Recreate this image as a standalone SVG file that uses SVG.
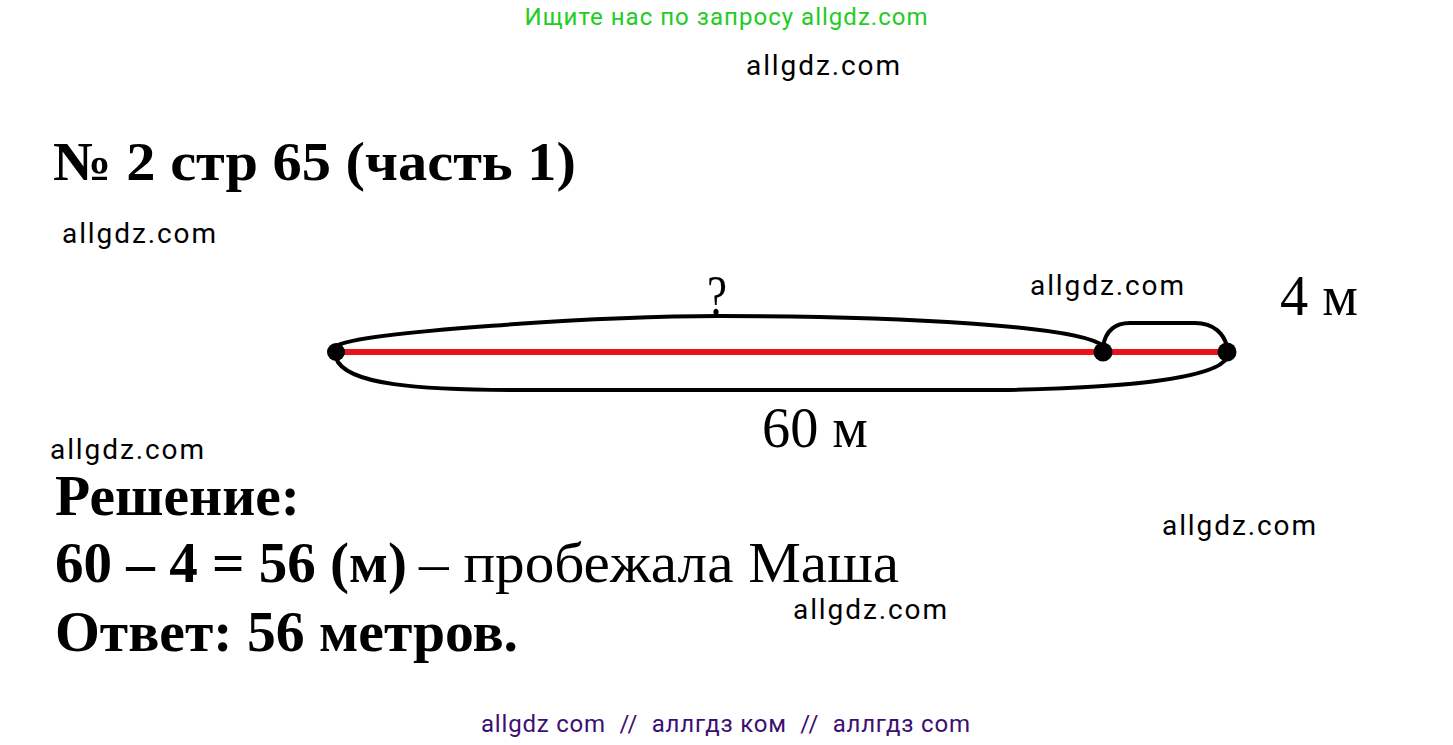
<svg xmlns="http://www.w3.org/2000/svg" width="1453" height="745" viewBox="0 0 1453 745">
<style>
.wm{font-family:Roboto,"Liberation Sans",sans-serif;font-size:28px;fill:#000}
.ser{font-family:"Liberation Serif","Times New Roman",serif;fill:#000}
.b{font-weight:bold}
.curve{fill:none;stroke:#000;stroke-width:4;stroke-linecap:round}
.dot{fill:#000}
</style>
<rect width="1453" height="745" fill="#fff"/>
<g id="header">
<text x="726" y="25" text-anchor="middle" font-family="Roboto,'Liberation Sans',sans-serif" font-size="24" fill="#22cc22" textLength="403">Ищите нас по запросу allgdz.com</text>
<text class="wm" x="746" y="75" textLength="154">allgdz.com</text>
<text class="ser b" x="53" y="180" font-size="55" textLength="523" lengthAdjust="spacingAndGlyphs">№ 2 стр 65 (часть 1)</text>
</g>
<g id="watermarks">
<text class="wm" x="62" y="243" textLength="154">allgdz.com</text>
<text class="wm" x="1030" y="295" textLength="154">allgdz.com</text>
<text class="wm" x="50" y="459" textLength="154">allgdz.com</text>
<text class="wm" x="1162" y="535" textLength="154">allgdz.com</text>
<text class="wm" x="793" y="619" textLength="154">allgdz.com</text>
</g>
<g id="connectors">
<path class="curve" d="M336,346 C360,332 600,316 720,316 C900,316 1080,326 1103,346"/>
<path class="curve" d="M336,358 C345,385 420,390 520,390 L1000,390 C1130,388 1215,378 1227,358"/>
<path class="curve" d="M1103,346 C1106,330 1115,323 1130,323 L1195,323 C1215,323 1224,335 1227,346"/>
</g>
<g id="segment">
<line x1="336" y1="352" x2="1227" y2="352" stroke="#e8141a" stroke-width="6"/>
<circle class="dot" cx="336" cy="352" r="9"/>
<circle class="dot" cx="1103" cy="352" r="9.5"/>
<circle class="dot" cx="1227" cy="352" r="9.5"/>
</g>
<g id="labels">
<text class="ser" x="707" y="315" font-size="56" textLength="20" lengthAdjust="spacingAndGlyphs">?</text>
<text class="ser" x="1280" y="315" font-size="58" textLength="78" lengthAdjust="spacingAndGlyphs">4 м</text>
<text class="ser" x="762" y="447" font-size="58" textLength="106" lengthAdjust="spacingAndGlyphs">60 м</text>
</g>
<g id="solution">
<text class="ser b" x="55" y="515" font-size="56" textLength="245" lengthAdjust="spacingAndGlyphs">Решение:</text>
<text class="ser" x="55" y="582" font-size="57"><tspan class="b" textLength="352" lengthAdjust="spacingAndGlyphs">60 – 4 = 56 (м)</tspan><tspan x="419" textLength="480" lengthAdjust="spacingAndGlyphs">– пробежала Маша</tspan></text>
<text class="ser b" x="55" y="651" font-size="56" textLength="463" lengthAdjust="spacingAndGlyphs">Ответ: 56 метров.</text>
</g>
<g id="footer">
<text x="481" y="732" font-family="Roboto,'Liberation Sans',sans-serif" font-size="24" fill="#3d0f73" textLength="489" xml:space="preserve">allgdz com  //  аллгдз ком  //  аллгдз com</text>
</g>
</svg>
